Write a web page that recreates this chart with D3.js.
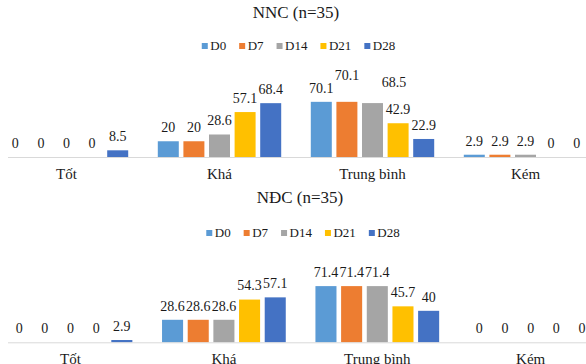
<!DOCTYPE html>
<html>
<head>
<meta charset="utf-8">
<script src="https://cdn.jsdelivr.net/npm/d3@7"></script>
<style>
  html, body { margin: 0; padding: 0; background: #fff; }
  svg { display: block; }
</style>
</head>
<body>
<svg id="chart" width="586" height="364"></svg>
<script>
// ---- data ----
const categories = ["Tốt", "Khá", "Trung bình", "Kém"];
const seriesNames = ["D0", "D7", "D14", "D21", "D28"];
const seriesColors = ["#5B9BD5", "#ED7D31", "#A5A5A5", "#FFC000", "#4472C4"];

const nncTitle = "NNC (n=35)";
const nncD0  = [0, 20, 70.1, 2.9];
const nncD7  = [0, 20, 70.1, 2.9];
const nncD14 = [0, 28.6, 68.5, 2.9];
const nncD21 = [0, 57.1, 42.9, 0];
const nncD28 = [8.5, 68.4, 22.9, 0];

const ndcTitle = "NĐC (n=35)";
const ndcD0  = [0, 28.6, 71.4, 0];
const ndcD7  = [0, 28.6, 71.4, 0];
const ndcD14 = [0, 28.6, 71.4, 0];
const ndcD21 = [0, 54.3, 45.7, 0];
const ndcD28 = [2.9, 57.1, 40, 0];

const yDomain = [0, 100];

// ---- layout (not data) ----
const FONT = "'Liberation Serif', 'Times New Roman', 'DejaVu Serif', serif";
const INK = "#1a1a1a";
const panels = [
  { title: nncTitle, series: [nncD0, nncD7, nncD14, nncD21, nncD28],
    titleX: 296, titleY: 18, legendCX: 298.5, legendY: 50,
    axisY: 157, x0: -10, step: 153,
    nudges: { "2-1": [0, -12.5], "2-2": [21.5, -7.3] } },
  { title: ndcTitle, series: [ndcD0, ndcD7, ndcD14, ndcD21, ndcD28],
    titleX: 300, titleY: 203, legendCX: 303, legendY: 237,
    axisY: 342.3, x0: -6.2, step: 153.4, nudges: {} }
];

const svg = d3.select("#chart");
function txt(sel, size) {
  return sel.style("font-family", FONT).style("font-size", size + "px").style("fill", INK);
}

// cut-off heading fragment at the very top
[44, 112].forEach(px => {
  txt(svg.append("text"), 20).attr("x", px).attr("y", -5)
    .style("font-weight", "bold").style("fill", "#000").text("p");
});

panels.forEach(p => {
  const g = svg.append("g");
  const x = d3.scaleBand().domain(categories)
    .range([p.x0, p.x0 + p.step * categories.length]).padding(0);
  const xs = d3.scaleBand().domain(seriesNames)
    .range([0, x.bandwidth()]).paddingInner(0.18).paddingOuter(0.578);
  const y = d3.scaleLinear().domain(yDomain).range([p.axisY, p.axisY - 78.7]);

  // title
  txt(g.append("text"), 17).attr("x", p.titleX).attr("y", p.titleY)
    .attr("text-anchor", "middle").text(p.title);

  // legend
  const sq = 6, gapT = 2.5, gapI = 13;
  const leg = g.append("g");
  let cx = 0;
  const items = [];
  seriesNames.forEach((s, i) => {
    const t = txt(leg.append("text"), 13).attr("y", p.legendY).text(s);
    const w = t.node().getComputedTextLength();
    items.push({ t, w, x: cx, i });
    cx += sq + gapT + w + gapI;
  });
  const total = cx - gapI;
  const lx0 = p.legendCX - total / 2;
  items.forEach(it => {
    leg.append("rect").attr("x", lx0 + it.x).attr("y", p.legendY - 7)
      .attr("width", sq).attr("height", sq).attr("fill", seriesColors[it.i]);
    it.t.attr("x", lx0 + it.x + sq + gapT);
  });

  // bars + data labels
  categories.forEach((c, ci) => {
    seriesNames.forEach((s, si) => {
      const v = p.series[si][ci];
      const bx = x(c) + xs(s);
      g.append("rect")
        .attr("x", bx).attr("y", y(v))
        .attr("width", xs.bandwidth()).attr("height", y(0) - y(v))
        .attr("fill", seriesColors[si]);
      const nd = p.nudges[ci + "-" + si] || [0, 0];
      txt(g.append("text"), 14)
        .attr("x", bx + xs.bandwidth() / 2 + nd[0])
        .attr("y", y(v) - 9.2 + nd[1])
        .attr("text-anchor", "middle")
        .text(v);
    });
  });

  // category axis
  const axis = g.append("g").attr("transform", `translate(0,${p.axisY})`)
    .call(d3.axisBottom(x).tickSize(0).tickPadding(13));
  axis.attr("font-family", null).attr("font-size", null);
  axis.select(".domain").attr("d", `M8,0.5H586`).attr("stroke", "#D9D9D9").attr("stroke-width", 1);
  txt(axis.selectAll(".tick text"), 15).attr("y", 21.5).attr("dy", 0);
});
</script>
</body>
</html>
